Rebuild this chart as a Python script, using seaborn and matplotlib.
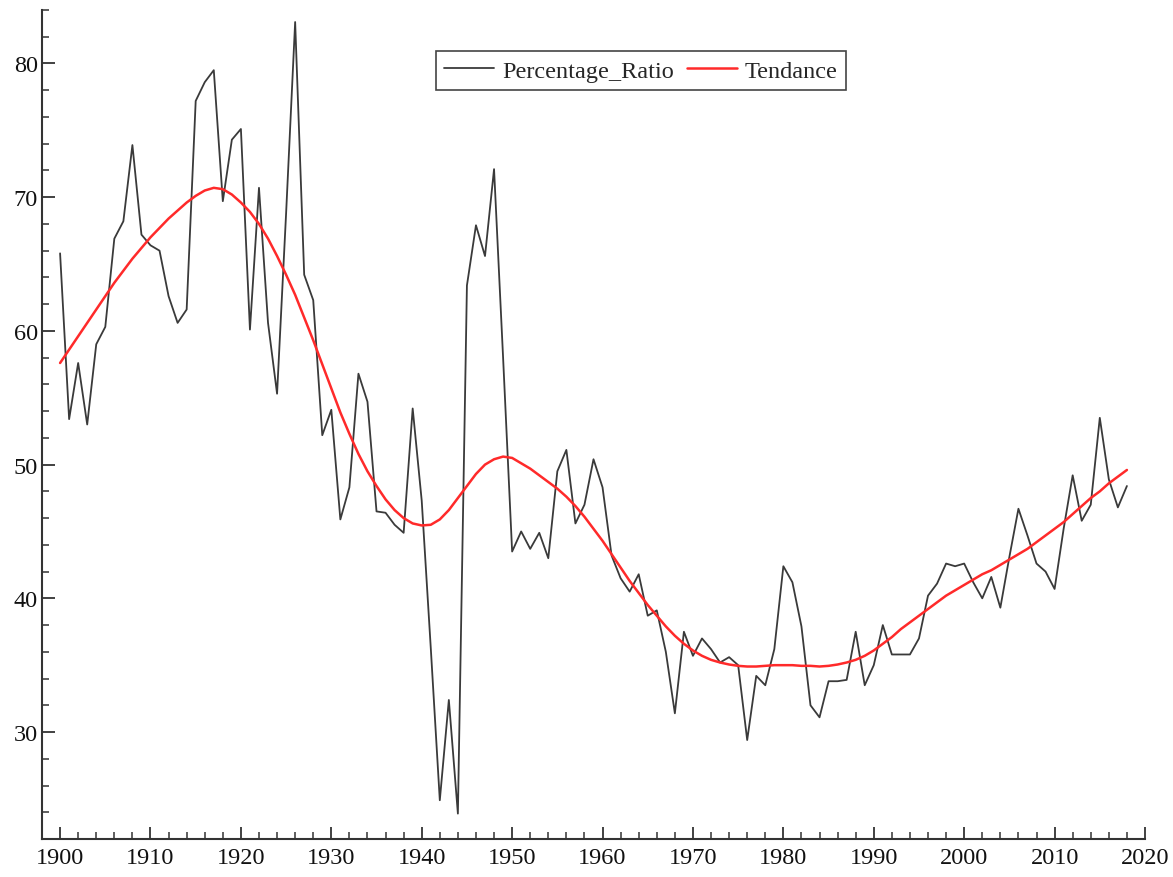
import pandas as pd
import matplotlib.pyplot as plt
import seaborn as sns
from matplotlib.ticker import MultipleLocator

years = list(range(1900, 2019))

# black series
ratio = [65.8, 53.4, 57.6, 53.0, 59.0, 60.3, 66.9, 68.2, 73.9, 67.2,
         66.4, 66.0, 62.6, 60.6, 61.6, 77.2, 78.6, 79.5, 69.7, 74.3,
         75.1, 60.1, 70.7, 60.6, 55.3, 68.8, 83.1, 64.2, 62.3, 52.2,
         54.1, 45.9, 48.3, 56.8, 54.7, 46.5, 46.4, 45.5, 44.9, 54.2,
         47.3, 36.3, 24.9, 32.4, 23.9, 63.4, 67.9, 65.6, 72.1, 58.0,
         43.5, 45.0, 43.7, 44.9, 43.0, 49.5, 51.1, 45.6, 47.0, 50.4,
         48.3, 43.2, 41.5, 40.5, 41.8, 38.7, 39.1, 36.0, 31.4, 37.5,
         35.7, 37.0, 36.2, 35.2, 35.6, 35.0, 29.4, 34.2, 33.5, 36.2,
         42.4, 41.2, 37.9, 32.0, 31.1, 33.8, 33.8, 33.9, 37.5, 33.5,
         35.0, 38.0, 35.8, 35.8, 35.8, 37.0, 40.2, 41.1, 42.6, 42.4,
         42.6, 41.2, 40.0, 41.6, 39.3, 43.1, 46.7, 44.7, 42.6, 42.0,
         40.7, 45.2, 49.2, 45.8, 47.0, 53.5, 48.9, 46.8, 48.4]

# red trend, also
trend = [57.6, 58.6, 59.6, 60.6, 61.6, 62.6, 63.6, 64.5, 65.4, 66.2,
         67.0, 67.7, 68.4, 69.0, 69.6, 70.1, 70.5, 70.7, 70.6, 70.2,
         69.6, 68.9, 68.0, 66.9, 65.6, 64.2, 62.7, 61.0, 59.3, 57.5,
         55.7, 53.9, 52.3, 50.8, 49.5, 48.4, 47.4, 46.6, 46.0, 45.6,
         45.45, 45.5, 45.9, 46.6, 47.5, 48.4, 49.3, 50.0, 50.4, 50.6,
         50.5, 50.1, 49.7, 49.2, 48.7, 48.2, 47.6, 46.9, 46.1, 45.2,
         44.3, 43.3, 42.3, 41.3, 40.4, 39.5, 38.7, 37.9, 37.2, 36.6,
         36.1, 35.7, 35.4, 35.2, 35.05, 34.95, 34.9, 34.9, 34.95, 35.0,
         35.0, 35.0, 34.95, 34.95, 34.9, 34.95, 35.05, 35.2, 35.4, 35.7,
         36.1, 36.6, 37.1, 37.7, 38.2, 38.7, 39.2, 39.7, 40.2, 40.6,
         41.0, 41.4, 41.8, 42.1, 42.5, 42.9, 43.3, 43.7, 44.2, 44.7,
         45.2, 45.7, 46.3, 46.9, 47.5, 48.0, 48.6, 49.1, 49.6]

df = pd.DataFrame({"year": years, "Percentage_Ratio": ratio, "Tendance": trend})

sns.set_style("ticks")
plt.rcParams['font.family'] = ['Liberation Serif', 'DejaVu Serif']

fig = plt.figure(figsize=(11.73, 8.78), dpi=100)
ax = fig.add_axes([42 / 1173, 38 / 878, 1103 / 1173, 829 / 878])

sns.lineplot(data=df, x="year", y="Percentage_Ratio", color="#3a3a3a",
             linewidth=1.3, label="Percentage_Ratio", ax=ax)
sns.lineplot(data=df, x="year", y="Tendance", color="#ff2a2a",
             linewidth=1.8, label="Tendance", ax=ax)

ax.set_xlim(1898, 2020)
ax.set_ylim(22, 84)
ax.set_xlabel("")
ax.set_ylabel("")

ax.xaxis.set_major_locator(MultipleLocator(10))
ax.xaxis.set_minor_locator(MultipleLocator(2))
ax.yaxis.set_major_locator(MultipleLocator(10))
ax.yaxis.set_minor_locator(MultipleLocator(2))
ax.tick_params(which="major", direction="in", length=9, width=1.3,
               color="#333333", labelsize=17.5, labelcolor="#111111")
ax.tick_params(which="minor", direction="in", length=5, width=1.1,
               color="#333333")
ax.tick_params(axis="x", which="major", pad=6)
ax.tick_params(axis="y", which="major", pad=3)

sns.despine(ax=ax)
for side in ["left", "bottom"]:
    ax.spines[side].set_linewidth(1.5)
    ax.spines[side].set_color("#333333")

leg = ax.legend(loc="upper center", bbox_to_anchor=(0.543, 0.9505), ncol=2,
                fontsize=17.5, frameon=True, fancybox=False, framealpha=1,
                edgecolor="#444444", handlelength=2.05, columnspacing=0.55,
                borderpad=0.35, handletextpad=0.32, borderaxespad=0)
leg.get_frame().set_linewidth(1.2)

plt.savefig("out.png", dpi=100)
